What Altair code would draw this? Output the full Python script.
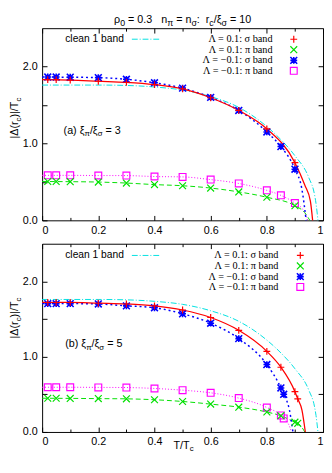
import altair as alt
import pandas as pd

# ---------------- data ----------------
# panel (a)  xi_pi/xi_sigma = 3
A_RED_T = [0.02, 0.05, 0.1, 0.2, 0.3, 0.4, 0.5, 0.6, 0.7, 0.8, 0.9]
A_RED_V = [1.83, 1.83, 1.825, 1.81, 1.795, 1.765, 1.71, 1.595, 1.43, 1.19, 0.75]
A_GRN_T = [0.02, 0.05, 0.1, 0.2, 0.3, 0.4, 0.5, 0.6, 0.7, 0.8, 0.9]
A_GRN_V = [0.505, 0.505, 0.503, 0.498, 0.485, 0.465, 0.45, 0.42, 0.37, 0.30, 0.19]
A_BLU_T = [0.02, 0.05, 0.1, 0.2, 0.3, 0.4, 0.5, 0.6, 0.7, 0.8, 0.85, 0.9]
A_BLU_V = [1.865, 1.865, 1.862, 1.857, 1.835, 1.79, 1.72, 1.60, 1.43, 1.15, 0.96, 0.665]
A_MAG_T = [0.02, 0.05, 0.1, 0.2, 0.3, 0.4, 0.5, 0.6, 0.7, 0.8, 0.85, 0.9]
A_MAG_V = [0.585, 0.585, 0.585, 0.583, 0.582, 0.57, 0.565, 0.53, 0.48, 0.39, 0.325, 0.224]

A_RED_CT = [0.0, 0.1, 0.2, 0.3, 0.4, 0.5, 0.6, 0.7, 0.8, 0.9, 0.935, 0.955, 0.963]
A_RED_CV = [1.83, 1.825, 1.81, 1.795, 1.765, 1.71, 1.595, 1.43, 1.19, 0.75, 0.46, 0.25, 0.0]
A_GRN_CT = [0.0, 0.1, 0.2, 0.3, 0.4, 0.5, 0.6, 0.7, 0.8, 0.9, 0.935, 0.953]
A_GRN_CV = [0.505, 0.503, 0.498, 0.485, 0.465, 0.45, 0.42, 0.37, 0.30, 0.19, 0.10, 0.0]
A_BLU_CT = [0.0, 0.1, 0.2, 0.3, 0.4, 0.5, 0.6, 0.7, 0.8, 0.85, 0.9, 0.925, 0.94]
A_BLU_CV = [1.865, 1.862, 1.857, 1.835, 1.79, 1.72, 1.60, 1.43, 1.15, 0.96, 0.665, 0.40, 0.0]
A_MAG_CT = [0.0, 0.1, 0.2, 0.3, 0.4, 0.5, 0.6, 0.7, 0.8, 0.85, 0.9, 0.93, 0.946]
A_MAG_CV = [0.585, 0.585, 0.583, 0.582, 0.57, 0.565, 0.53, 0.48, 0.39, 0.325, 0.224, 0.13, 0.0]

# panel (b)  xi_pi/xi_sigma = 5
B_RED_T = [0.02, 0.05, 0.1, 0.2, 0.3, 0.4, 0.5, 0.6, 0.7, 0.8, 0.85, 0.9, 0.91]
B_RED_V = [1.72, 1.72, 1.72, 1.71, 1.70, 1.675, 1.62, 1.52, 1.35, 1.07, 0.86, 0.535, 0.44]
B_GRN_T = [0.02, 0.05, 0.1, 0.2, 0.3, 0.4, 0.5, 0.6, 0.7, 0.8, 0.85, 0.9, 0.91]
B_GRN_V = [0.448, 0.448, 0.446, 0.443, 0.44, 0.428, 0.405, 0.37, 0.33, 0.265, 0.215, 0.13, 0.115]
B_BLU_T = [0.02, 0.05, 0.1, 0.2, 0.3, 0.4, 0.5, 0.6, 0.7, 0.8, 0.85, 0.86]
B_BLU_V = [1.705, 1.705, 1.705, 1.70, 1.675, 1.65, 1.57, 1.445, 1.24, 0.895, 0.585, 0.50]
B_MAG_T = [0.02, 0.05, 0.1, 0.2, 0.3, 0.4, 0.5, 0.6, 0.7, 0.8, 0.85, 0.86]
B_MAG_V = [0.594, 0.594, 0.594, 0.592, 0.59, 0.578, 0.555, 0.52, 0.45, 0.325, 0.22, 0.18]

B_RED_CT = [0.0, 0.1, 0.2, 0.3, 0.4, 0.5, 0.6, 0.7, 0.8, 0.85, 0.9, 0.91, 0.925, 0.937]
B_RED_CV = [1.72, 1.72, 1.71, 1.70, 1.675, 1.62, 1.52, 1.35, 1.07, 0.86, 0.535, 0.44, 0.29, 0.0]
B_GRN_CT = [0.0, 0.1, 0.2, 0.3, 0.4, 0.5, 0.6, 0.7, 0.8, 0.85, 0.9, 0.91, 0.925, 0.935]
B_GRN_CV = [0.448, 0.446, 0.443, 0.44, 0.428, 0.405, 0.37, 0.33, 0.265, 0.215, 0.13, 0.115, 0.06, 0.0]
B_BLU_CT = [0.0, 0.1, 0.2, 0.3, 0.4, 0.5, 0.6, 0.7, 0.8, 0.85, 0.86, 0.88, 0.893]
B_BLU_CV = [1.705, 1.705, 1.70, 1.675, 1.65, 1.57, 1.445, 1.24, 0.895, 0.585, 0.50, 0.30, 0.0]
B_MAG_CT = [0.0, 0.1, 0.2, 0.3, 0.4, 0.5, 0.6, 0.7, 0.8, 0.85, 0.86, 0.875, 0.888]
B_MAG_CV = [0.594, 0.594, 0.592, 0.59, 0.578, 0.555, 0.52, 0.45, 0.325, 0.22, 0.18, 0.12, 0.0]

# clean one-band curve (same in both panels)
CLEAN_T = [0.0, 0.1, 0.2, 0.3, 0.4, 0.5, 0.6, 0.7, 0.8, 0.85, 0.9, 0.95, 0.97, 0.975, 0.982]
CLEAN_V = [1.76, 1.76, 1.76, 1.755, 1.735, 1.695, 1.61, 1.47, 1.22, 1.05, 0.84, 0.55, 0.33, 0.22, 0.0]

X_TICKS = [0.0, 0.2, 0.4, 0.6, 0.8, 1.0]
X_MINOR = [0.1, 0.3, 0.5, 0.7, 0.9]
Y_TICKS = [0.0, 0.5, 1.0, 1.5, 2.0]

LEG_LABELS = ["Λ = 0.1: σ band", "Λ = 0.1: π band", "Λ = −0.1: σ band", "Λ = −0.1: π band"]
CLEAN_LABEL = "clean 1 band"

# ---------------- styling ----------------
RED, GRN, BLU, MAG, CYA = "#ff0000", "#00e000", "#0000ff", "#ff00ff", "#00e0e0"
PLUS = "M-1,0L1,0M0,-1L0,1"
CROSS = "M-1,-1L1,1M-1,1L1,-1"
STAR = PLUS + "M-1,-1L1,1M-1,1L1,-1"
SANS = "Liberation Sans"
SERIF = "Liberation Serif"
W = 288
HA, HB = 197, 193

EM = {"=": .584, ".": .278, ":": .278, "/": .278, "(": .333, ")": .333,
      "|": .26, "a": .556, "b": .556, "c": .5, "d": .556, "e": .556, "l": .222,
      "n": .556, "r": .333, "T": .611, "ρ": .58, "π": .69, "σ": .62, "ξ": .45,
      "Δ": .668, "Λ": .667}
SPACE = .278


def width(s, fs):
    return sum(EM.get(ch, .556) for ch in s) * fs


ONE = alt.Data(values=[{"k": 0}])

XS = alt.Scale(domain=[0, 1], nice=False, zero=False)
YS = alt.Scale(domain=[0, 2.5], nice=False, zero=False)


def df(t, v):
    return pd.DataFrame({"T": t, "V": v})


def curve(t, v, color, dash=None, sw=1.0):
    kw = dict(color=color, strokeWidth=sw, interpolate="monotone")
    if dash:
        kw["strokeDash"] = dash
    return alt.Chart(df(t, v)).mark_line(**kw).encode(
        x=alt.X("T:Q", scale=XS, axis=None), y=alt.Y("V:Q", scale=YS, axis=None))


def pts(t, v, color, shape, sw=1.0, size=49):
    return alt.Chart(df(t, v)).mark_point(shape=shape, color=color, filled=False, strokeWidth=sw,
                                           size=size, opacity=1).encode(
        x=alt.X("T:Q", scale=XS, axis=None), y=alt.Y("V:Q", scale=YS, axis=None))


def xaxis(orient, values, size, labels):
    kw = dict(orient=orient, values=values, tickSize=size, offset=-size, domain=False, grid=False,
              labels=labels, title=None, tickColor="black", tickWidth=1)
    if labels:
        kw.update(labelFontSize=11, labelFont=SANS, labelColor="black", labelPadding=4,
                  labelFlush=True, labelOverlap=False, labelExpr="format(datum.value, '~g')")
    return alt.Axis(**kw)


def yaxis(orient, labels):
    kw = dict(orient=orient, values=Y_TICKS, tickSize=5, offset=-5, domain=False, grid=False,
              labels=labels, title=None, tickColor="black", tickWidth=1)
    if labels:
        kw.update(labelFontSize=11, labelFont=SANS, labelColor="black", labelPadding=5,
                  labelOverlap=False,
                  labelExpr="round(datum.value*2) % 2 == 0 ? format(datum.value, '.1f') : ''")
    return alt.Axis(**kw)


def axes_layers():
    base = df(CLEAN_T, CLEAN_V)
    out = []
    out.append(alt.Chart(base).mark_line(opacity=0).encode(
        x=alt.X("T:Q", scale=XS, axis=xaxis("bottom", X_TICKS, 5, True)),
        y=alt.Y("V:Q", scale=YS, axis=yaxis("left", True))))
    out.append(alt.Chart(base).mark_line(opacity=0).encode(
        x=alt.X("T:Q", scale=XS, axis=xaxis("top", X_TICKS, 5, False)),
        y=alt.Y("V:Q", scale=YS, axis=yaxis("right", False))))
    out.append(alt.Chart(base).mark_line(opacity=0).encode(
        x=alt.X("T:Q", scale=XS, axis=xaxis("bottom", X_MINOR, 3, False)),
        y=alt.Y("V:Q", scale=YS, axis=None)))
    out.append(alt.Chart(base).mark_line(opacity=0).encode(
        x=alt.X("T:Q", scale=XS, axis=xaxis("top", X_MINOR, 3, False)),
        y=alt.Y("V:Q", scale=YS, axis=None)))
    return out


def tok_width(tok, fs, sub):
    t, s = tok
    if t is None:          # a run of s spaces
        return s * SPACE * fs
    return width(t, sub if s else fs)


def rich(tokens, x, y, fs=11, sub=8, font=SANS, angle=0, center=False, dsub=3):
    """tokens: (text, is_subscript) or (None, n_spaces); chained with dx offsets, no spaces in texts."""
    total = sum(tok_width(tk, fs, sub) for tk in tokens)
    off = -total / 2 if center else 0
    layers = []
    for tk in tokens:
        t, s = tk
        if t is not None:
            f = sub if s else fs
            layers.append(alt.Chart(ONE).mark_text(
                text=t, font=font, fontSize=f, align="left", baseline="alphabetic",
                dx=off, dy=(dsub if s else 0), angle=angle, color="black").encode(
                x=alt.value(x), y=alt.value(y)))
        off += tok_width(tk, fs, sub)
    return layers


def text(s, x, y, align="left", font=SANS, fs=11):
    return alt.Chart(ONE).mark_text(text=s, font=font, fontSize=fs, align=align, baseline="middle",
                                    color="black").encode(x=alt.value(x), y=alt.value(y))


def sym(x, y, color, shape, sw=1.0):
    return alt.Chart(ONE).mark_point(shape=shape, color=color, filled=False, strokeWidth=sw, size=49,
                                     opacity=1).encode(x=alt.value(x), y=alt.value(y))


def legend(rows, tx, sx):
    shapes = [(RED, PLUS, 1.2), (GRN, CROSS, 1.2), (BLU, STAR, 1.6), (MAG, "square", 1.2)]
    out = []
    for lab, yy, (c, sh, sw) in zip(LEG_LABELS, rows, shapes):
        out.append(text(lab, tx, yy, align="right", font=SERIF, fs=10.5))
        out.append(sym(sx, yy, c, sh, sw))
    out.append(text(CLEAN_LABEL, 23.7, rows[0], fs=10.5))
    out.append(alt.Chart(ONE).mark_rule(color=CYA, strokeWidth=1, strokeDash=[6, 2, 1, 2]).encode(
        x=alt.value(92), x2=alt.value(122), y=alt.value(rows[0])))
    return out


def series(rt, rv, gt, gv, bt, bv, mt, mv, rct, rcv, gct, gcv, bct, bcv, mct, mcv):
    return [
        curve(CLEAN_T, CLEAN_V, CYA, [6, 2, 1, 2], 1.0),
        curve(mct, mcv, MAG, [1, 2], 1.0),
        curve(gct, gcv, GRN, [5, 3], 1.0),
        curve(bct, bcv, BLU, [2, 3], 1.5),
        curve(rct, rcv, RED, None, 1.3),
        pts(mt, mv, MAG, "square", 1.2),
        pts(gt, gv, GRN, CROSS, 1.2),
        pts(bt, bv, BLU, STAR, 1.6),
        pts(rt, rv, RED, PLUS, 1.2),
    ]


YTITLE = [("|Δ(r", False), ("c", True), (")|/T", False), ("c", True)]
YT_LEN = width("|Δ()|/T", 11) + width("cc", 8)

TITLE = [("ρ", False), ("0", True), (None, 1), ("=", False), (None, 1), ("0.3", False), (None, 3),
         ("n", False), ("π", True), (None, 1), ("=", False), (None, 1), ("n", False), ("σ", True),
         (":", False), (None, 2), ("r", False), ("c", True), ("/ξ", False), ("σ", True),
         (None, 1), ("=", False), (None, 1), ("10", False)]


def label_tokens(tag, val):
    return [("(" + tag + ")", False), (None, 1), ("ξ", False), ("π", True), ("/ξ", False), ("σ", True),
            (None, 1), ("=", False), (None, 1), (val, False)]


panel_a_layers = (axes_layers()
                  + series(A_RED_T, A_RED_V, A_GRN_T, A_GRN_V, A_BLU_T, A_BLU_V, A_MAG_T, A_MAG_V,
                           A_RED_CT, A_RED_CV, A_GRN_CT, A_GRN_CV, A_BLU_CT, A_BLU_CV, A_MAG_CT, A_MAG_CV)
                  + legend([11.3, 22, 33, 43.7], 236.3, 258)
                  + rich(label_tokens("a", "3"), 22, 108)
                  + rich(YTITLE, -25, 94 + YT_LEN / 2, angle=270)
                  + rich(TITLE, W / 2, -5, fs=11, sub=9, center=True))

panel_b_layers = (axes_layers()
                  + series(B_RED_T, B_RED_V, B_GRN_T, B_GRN_V, B_BLU_T, B_BLU_V, B_MAG_T, B_MAG_V,
                           B_RED_CT, B_RED_CV, B_GRN_CT, B_GRN_CV, B_BLU_CT, B_BLU_CV, B_MAG_CT, B_MAG_CV)
                  + legend([12, 22.7, 33.7, 44.3], 242.3, 264.7)
                  + rich(label_tokens("b", "5"), 23.7, 106)
                  + rich(YTITLE, -25, 78 + YT_LEN / 2, angle=270)
                  + rich([("T/T", False), ("c", True)], W / 2 + 1, HB + 17, center=True, dsub=2.5))

panel_a = alt.layer(*panel_a_layers).resolve_axis(x="independent", y="independent").properties(width=W, height=HA)
panel_b = alt.layer(*panel_b_layers).resolve_axis(x="independent", y="independent").properties(width=W, height=HB)

chart = (alt.vconcat(panel_a, panel_b, spacing=7)
         .properties(padding={"left": 0, "top": 0, "right": 0, "bottom": 0})
         .configure_view(stroke="black", strokeWidth=1))

chart.save("out.html", embed_options={"renderer": "svg", "actions": False})
